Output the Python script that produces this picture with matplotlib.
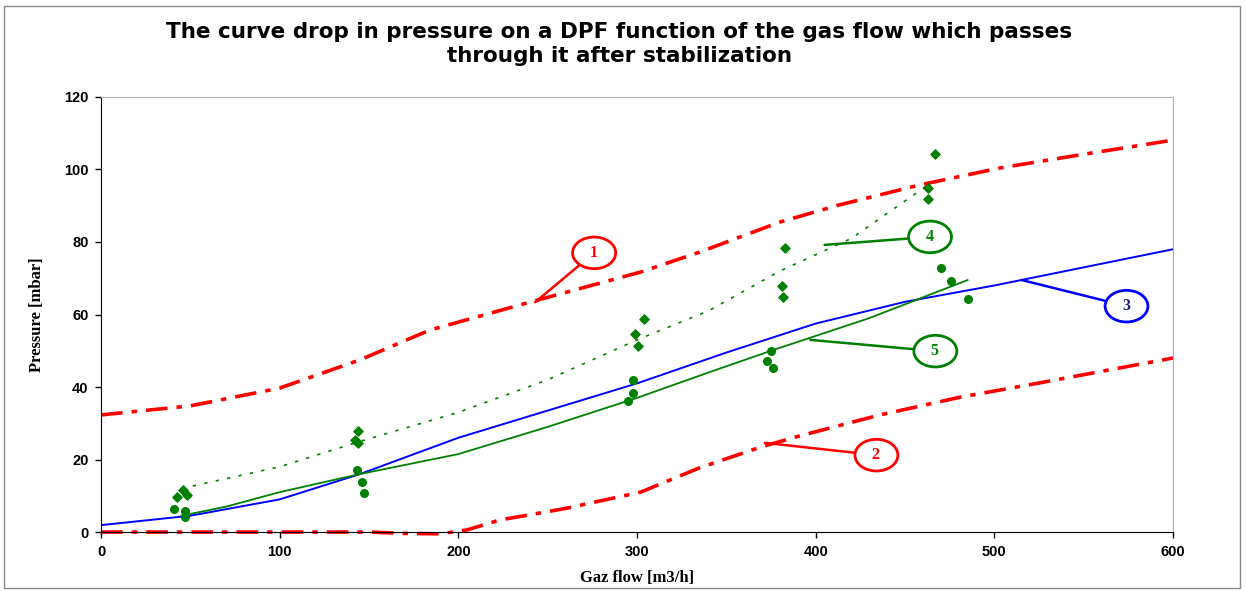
import numpy as np
import matplotlib.pyplot as plt
from matplotlib.patches import Rectangle

# envelope curves (1 upper, 2 lower)
up_x = [0, 50, 100, 145, 184, 240, 302, 335, 380, 413, 458, 503, 550, 600]
up_y = [32.3, 34.8, 39.7, 47.5, 55.7, 63.4, 71.7, 77.2, 85.5, 90.2, 95.7, 100.4, 104.2, 108.1]
low_x = [0, 100, 150, 170, 190, 205, 223, 260, 302, 335, 369, 391, 436, 481, 525, 600]
low_y = [0, 0, 0, -0.4, -0.5, 0.6, 3.3, 6.5, 11, 17.7, 23.4, 26.5, 32.3, 37.2, 41.1, 48]

# curve 3 (blue)
c3_x = [0, 50, 100, 145, 200, 250, 300, 350, 400, 450, 500, 550, 600]
c3_y = [1.9, 4.5, 9, 16, 26, 33.5, 41, 49.5, 57.5, 63.5, 68, 73, 78]

# curve 4 (green dotted, through the diamonds)
c4_x = [45, 100, 145, 200, 250, 300, 340, 380, 420, 465]
c4_y = [12, 18, 25, 33, 42, 53, 61, 72, 81, 96.5]

# curve 5 (green solid, through the circles)
c5_x = [45, 70, 100, 145, 200, 250, 300, 340, 375, 430, 485]
c5_y = [4.5, 7, 11, 16, 21.5, 29, 37, 44, 50, 59, 69.5]

dia_x = [42.5, 46, 48, 144, 142, 144, 304, 299, 300.5, 383, 381, 381.5, 467, 463, 463]
dia_y = [9.7, 11.6, 10.2, 27.9, 25.4, 24.6, 58.7, 54.6, 51.3, 78.3, 67.9, 64.8, 104.3, 94.9, 91.9]
cir_x = [41, 47, 47, 143, 146, 147, 298, 297.5, 295, 375, 372.5, 376, 470, 476, 485]
cir_y = [6.3, 5.8, 4.1, 17.1, 13.8, 10.8, 41.9, 38.3, 36.1, 49.9, 47.2, 45.2, 72.8, 69.2, 64.3]

# callouts: label, text position, line end, colour
callouts = [
    ('1', (276, 77), (243, 63.4), 'red', 'red'),
    ('2', (434, 21.2), (371.6, 24.6), 'red', 'red'),
    ('3', (574, 62.3), (515.4, 69.5), 'blue', '#1a1a80'),
    ('4', (464, 81.4), (405, 79.2), 'green', 'green'),
    ('5', (467, 49.9), (397, 53), 'green', 'green'),
]

fig = plt.figure(figsize=(12.46, 5.91), dpi=100)
ax = fig.add_axes([0.0811, 0.0998, 0.8603, 0.7361])

red_ls = (0, (6, 2.5, 1.5, 2.5))
ax.plot(up_x, up_y, color='red', lw=2.6, ls=red_ls, clip_on=False)
ax.plot(low_x, low_y, color='red', lw=2.6, ls=red_ls, clip_on=False)
ax.plot(c3_x, c3_y, color='blue', lw=1.4)
ax.plot(c4_x, c4_y, color='green', lw=1.2, ls=(0, (2, 5)))
ax.plot(c5_x, c5_y, color='green', lw=1.3)
ax.scatter(dia_x, dia_y, marker='D', s=22, color='green', zorder=3, clip_on=False)
ax.scatter(cir_x, cir_y, marker='o', s=30, color='green', zorder=3)

for lab, txt, end, ec, tc in callouts:
    ax.annotate('  ' + lab + '  ', xy=end, xytext=txt, ha='center', va='center',
                fontsize=11.5, fontweight='bold', family='Liberation Serif', color=tc,
                bbox=dict(boxstyle='ellipse,pad=0.2', fc='white', ec=ec, lw=2),
                arrowprops=dict(arrowstyle='-', color=ec, lw=1.8, shrinkA=0, shrinkB=0))

ax.set_xlim(0, 600)
ax.set_ylim(0, 120)
ax.set_xticks(range(0, 601, 100))
ax.set_yticks(range(0, 121, 20))
ax.tick_params(direction='out', length=4, width=1, labelsize=10.5, pad=5)
for t in ax.get_xticklabels() + ax.get_yticklabels():
    t.set_fontweight('bold')
    t.set_family('Liberation Sans')
ax.spines['top'].set_color('#b0b0b0')
ax.spines['right'].set_color('#b0b0b0')

ax.set_xlabel('Gaz flow [m3/h]', fontsize=12, fontweight='bold', family='Liberation Serif', labelpad=8)
ax.set_ylabel('Pressure [mbar]', fontsize=12, fontweight='bold', family='Liberation Serif', labelpad=14)

fig.text(0.497, 0.925, 'The curve drop in pressure on a DPF function of the gas flow which passes\nthrough it after stabilization',
         ha='center', va='center', fontsize=15.5, fontweight='bold', family='DejaVu Sans', linespacing=1.25)

fig.patches.append(Rectangle((0.003, 0.005), 0.992, 0.985, transform=fig.transFigure,
                             fill=False, ec='#888888', lw=1))

fig.savefig('out.png', dpi=100)
